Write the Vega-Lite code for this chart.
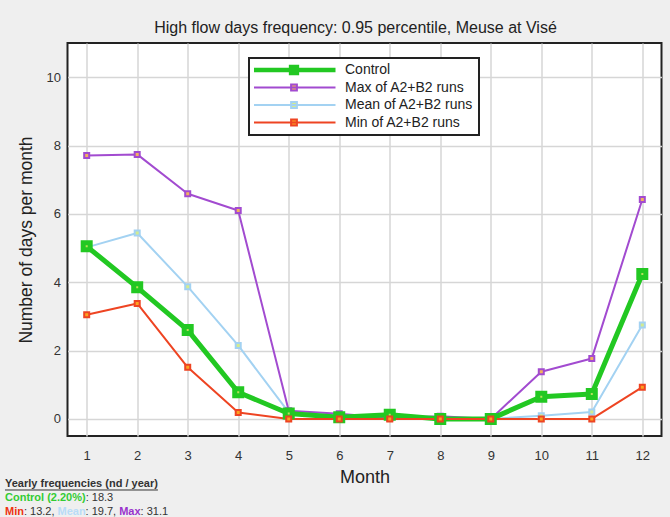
{
  "$schema": "https://vega.github.io/schema/vega-lite/v6.json",
  "width": 594,
  "height": 393,
  "autosize": {"type": "none"},
  "padding": {"left": 67.5, "top": 43, "right": 8.5, "bottom": 81},
  "background": "#efefef",
  "config": {
    "font": "Liberation Sans",
    "view": {"fill": "white", "stroke": "#222222", "strokeWidth": 2},
    "axis": {"domain": false, "gridColor": "#d6d6d6", "gridWidth": 1.5, "tickColor": "#222222", "tickWidth": 2, "labelColor": "#333333", "labelFontSize": 13, "titleColor": "#222222", "titleFontWeight": "normal"}
  },
  "title": {
    "text": "High flow days frequency: 0.95 percentile, Meuse at Visé",
    "fontSize": 16,
    "fontWeight": "normal",
    "color": "#222222",
    "offset": 7,
    "dx": -9
  },
  "resolve": {"scale": {"stroke": "independent"}},
  "datasets": {
    "monthly": [
      {"month": 1, "series": "Mean of A2+B2 runs", "value": 5.02},
      {"month": 2, "series": "Mean of A2+B2 runs", "value": 5.44},
      {"month": 3, "series": "Mean of A2+B2 runs", "value": 3.87},
      {"month": 4, "series": "Mean of A2+B2 runs", "value": 2.15},
      {"month": 5, "series": "Mean of A2+B2 runs", "value": 0.19},
      {"month": 6, "series": "Mean of A2+B2 runs", "value": 0.1},
      {"month": 7, "series": "Mean of A2+B2 runs", "value": 0.02},
      {"month": 8, "series": "Mean of A2+B2 runs", "value": 0.05},
      {"month": 9, "series": "Mean of A2+B2 runs", "value": 0},
      {"month": 10, "series": "Mean of A2+B2 runs", "value": 0.09},
      {"month": 11, "series": "Mean of A2+B2 runs", "value": 0.2},
      {"month": 12, "series": "Mean of A2+B2 runs", "value": 2.75},
      {"month": 1, "series": "Max of A2+B2 runs", "value": 7.71},
      {"month": 2, "series": "Max of A2+B2 runs", "value": 7.74},
      {"month": 3, "series": "Max of A2+B2 runs", "value": 6.59},
      {"month": 4, "series": "Max of A2+B2 runs", "value": 6.1},
      {"month": 5, "series": "Max of A2+B2 runs", "value": 0.24},
      {"month": 6, "series": "Max of A2+B2 runs", "value": 0.15},
      {"month": 7, "series": "Max of A2+B2 runs", "value": 0.03},
      {"month": 8, "series": "Max of A2+B2 runs", "value": 0.08},
      {"month": 9, "series": "Max of A2+B2 runs", "value": 0},
      {"month": 10, "series": "Max of A2+B2 runs", "value": 1.38},
      {"month": 11, "series": "Max of A2+B2 runs", "value": 1.77},
      {"month": 12, "series": "Max of A2+B2 runs", "value": 6.42},
      {"month": 1, "series": "Control", "value": 5.05},
      {"month": 2, "series": "Control", "value": 3.85},
      {"month": 3, "series": "Control", "value": 2.6},
      {"month": 4, "series": "Control", "value": 0.78},
      {"month": 5, "series": "Control", "value": 0.16},
      {"month": 6, "series": "Control", "value": 0.05},
      {"month": 7, "series": "Control", "value": 0.12},
      {"month": 8, "series": "Control", "value": 0},
      {"month": 9, "series": "Control", "value": 0},
      {"month": 10, "series": "Control", "value": 0.65},
      {"month": 11, "series": "Control", "value": 0.73},
      {"month": 12, "series": "Control", "value": 4.24},
      {"month": 1, "series": "Min of A2+B2 runs", "value": 3.05},
      {"month": 2, "series": "Min of A2+B2 runs", "value": 3.38},
      {"month": 3, "series": "Min of A2+B2 runs", "value": 1.51},
      {"month": 4, "series": "Min of A2+B2 runs", "value": 0.19},
      {"month": 5, "series": "Min of A2+B2 runs", "value": 0},
      {"month": 6, "series": "Min of A2+B2 runs", "value": 0},
      {"month": 7, "series": "Min of A2+B2 runs", "value": 0},
      {"month": 8, "series": "Min of A2+B2 runs", "value": 0},
      {"month": 9, "series": "Min of A2+B2 runs", "value": 0},
      {"month": 10, "series": "Min of A2+B2 runs", "value": 0},
      {"month": 11, "series": "Min of A2+B2 runs", "value": 0},
      {"month": 12, "series": "Min of A2+B2 runs", "value": 0.93}
    ]
  },
  "layer": [
    {
      "data": {"name": "monthly"},
      "mark": {"type": "line", "strokeJoin": "round"},
      "encoding": {
        "x": {
          "field": "month",
          "type": "quantitative",
          "scale": {"domain": [0.62, 12.38], "nice": false, "zero": false},
          "axis": {
            "values": [1, 2, 3, 4, 5, 6, 7, 8, 9, 10, 11, 12],
            "format": "d",
            "tickSize": 0,
            "labelPadding": 13,
            "title": "Month",
            "titleFontSize": 18,
            "titlePadding": 6,
            "encode": {"ticks": {"update": {"y2": {"value": -9}}}}
          }
        },
        "y": {
          "field": "value",
          "type": "quantitative",
          "scale": {"domain": [-0.5, 11], "nice": false, "zero": false},
          "axis": {
            "values": [0, 0.5, 1, 1.5, 2, 2.5, 3, 3.5, 4, 4.5, 5, 5.5, 6, 6.5, 7, 7.5, 8, 8.5, 9, 9.5, 10, 10.5],
            "labelExpr": "datum.value % 2 === 0 ? format(datum.value, 'd') : ''",
            "tickSize": 0,
            "labelPadding": 7,
            "title": "Number of days per month",
            "titleFontSize": 17.5,
            "titlePadding": 11,
            "encode": {"ticks": {"update": {"x2": {"signal": "datum.value % 2 === 0 ? 10 : 5"}}}}
          }
        },
        "stroke": {
          "field": "series",
          "type": "nominal",
          "scale": {
            "domain": ["Control", "Max of A2+B2 runs", "Mean of A2+B2 runs", "Min of A2+B2 runs"],
            "range": ["#22c822", "#a24bd0", "#a3d2f2", "#ee4422"]
          },
          "legend": {
            "title": null,
            "orient": "none",
            "legendX": 181.5,
            "legendY": 15,
            "padding": 5,
            "fillColor": "white",
            "strokeColor": "#222222",
            "labelFontSize": 14,
            "labelColor": "#222222",
            "labelOffset": 44,
            "symbolOffset": 33,
            "rowPadding": 3.5,
            "clipHeight": 14,
            "symbolType": "M-1,0H1M-0.07,-0.07H0.07V0.07H-0.07Z",
            "symbolSize": 6889,
            "encode": {
              "legend": {"update": {"strokeWidth": {"value": 2}}},
              "symbols": {
                "update": {
                  "fill": {"signal": "datum.value === 'Control' ? '#b8e05a' : datum.value === 'Max of A2+B2 runs' ? '#f2b25e' : datum.value === 'Mean of A2+B2 runs' ? '#d3eb8f' : '#fba321'"},
                  "strokeWidth": {"signal": "datum.value === 'Control' ? 4.5 : 2"}
                }
              }
            }
          }
        },
        "strokeWidth": {
          "field": "series",
          "type": "nominal",
          "scale": {
            "type": "ordinal",
            "domain": ["Control", "Max of A2+B2 runs", "Mean of A2+B2 runs", "Min of A2+B2 runs"],
            "range": [5, 2, 2, 2]
          },
          "legend": null
        }
      }
    },
    {
      "data": {"name": "monthly"},
      "mark": {"type": "square", "opacity": 1},
      "encoding": {
        "x": {"field": "month", "type": "quantitative"},
        "y": {"field": "value", "type": "quantitative"},
        "stroke": {
          "field": "series",
          "type": "nominal",
          "scale": {
            "domain": ["Control", "Max of A2+B2 runs", "Mean of A2+B2 runs", "Min of A2+B2 runs"],
            "range": ["#22c822", "#a24bd0", "#a3d2f2", "#ee4422"]
          },
          "legend": null
        },
        "fill": {
          "field": "series",
          "type": "nominal",
          "scale": {
            "domain": ["Control", "Max of A2+B2 runs", "Mean of A2+B2 runs", "Min of A2+B2 runs"],
            "range": ["#b8e05a", "#f2b25e", "#d3eb8f", "#fba321"]
          },
          "legend": null
        },
        "size": {
          "field": "series",
          "type": "nominal",
          "scale": {
            "type": "ordinal",
            "domain": ["Control", "Max of A2+B2 runs", "Mean of A2+B2 runs", "Min of A2+B2 runs"],
            "range": [49, 25, 25, 25]
          },
          "legend": null
        },
        "strokeWidth": {
          "field": "series",
          "type": "nominal",
          "scale": {
            "type": "ordinal",
            "domain": ["Control", "Max of A2+B2 runs", "Mean of A2+B2 runs", "Min of A2+B2 runs"],
            "range": [5, 2, 2, 2]
          },
          "legend": null
        }
      }
    },
    {
      "data": {"values": [{}]},
      "mark": {"type": "text", "clip": false, "align": "left", "baseline": "middle", "fontSize": 11, "fontWeight": "bold", "color": "#333333"},
      "encoding": {"x": {"datum": -0.6174}, "y": {"datum": -1.906}, "text": {"value": "Yearly frequencies (nd / year)"}}
    },
    {
      "data": {"values": [{}]},
      "mark": {"type": "rule", "clip": false, "color": "#333333", "strokeWidth": 1},
      "encoding": {"x": {"datum": -0.6174}, "x2": {"datum": 2.41}, "y": {"datum": -2.08}}
    },
    {
      "data": {"values": [{}]},
      "mark": {"type": "text", "clip": false, "align": "left", "baseline": "middle", "fontSize": 11, "fontWeight": "bold", "color": "#33cc33"},
      "encoding": {"x": {"datum": -0.6174}, "y": {"datum": -2.316}, "text": {"value": "Control (2.20%)"}}
    },
    {
      "data": {"values": [{}]},
      "mark": {"type": "text", "clip": false, "align": "left", "baseline": "middle", "fontSize": 11, "color": "#333333"},
      "encoding": {"x": {"datum": 0.9803}, "y": {"datum": -2.316}, "text": {"value": ": 18.3"}}
    },
    {
      "data": {"values": [{}]},
      "mark": {"type": "text", "clip": false, "align": "left", "baseline": "middle", "fontSize": 11, "fontWeight": "bold", "color": "#ee3311"},
      "encoding": {"x": {"datum": -0.6174}, "y": {"datum": -2.725}, "text": {"value": "Min"}}
    },
    {
      "data": {"values": [{}]},
      "mark": {"type": "text", "clip": false, "align": "left", "baseline": "middle", "fontSize": 11, "color": "#333333"},
      "encoding": {"x": {"datum": -0.2432}, "y": {"datum": -2.725}, "text": {"value": ": 13.2,"}}
    },
    {
      "data": {"values": [{}]},
      "mark": {"type": "text", "clip": false, "align": "left", "baseline": "middle", "fontSize": 11, "fontWeight": "bold", "color": "#b8dcf8"},
      "encoding": {"x": {"datum": 0.422}, "y": {"datum": -2.725}, "text": {"value": "Mean"}}
    },
    {
      "data": {"values": [{}]},
      "mark": {"type": "text", "clip": false, "align": "left", "baseline": "middle", "fontSize": 11, "color": "#333333"},
      "encoding": {"x": {"datum": 0.9783}, "y": {"datum": -2.725}, "text": {"value": ": 19.7,"}}
    },
    {
      "data": {"values": [{}]},
      "mark": {"type": "text", "clip": false, "align": "left", "baseline": "middle", "fontSize": 11, "fontWeight": "bold", "color": "#9933cc"},
      "encoding": {"x": {"datum": 1.6436}, "y": {"datum": -2.725}, "text": {"value": "Max"}}
    },
    {
      "data": {"values": [{}]},
      "mark": {"type": "text", "clip": false, "align": "left", "baseline": "middle", "fontSize": 11, "color": "#333333"},
      "encoding": {"x": {"datum": 2.0672}, "y": {"datum": -2.725}, "text": {"value": ": 31.1"}}
    }
  ]
}
